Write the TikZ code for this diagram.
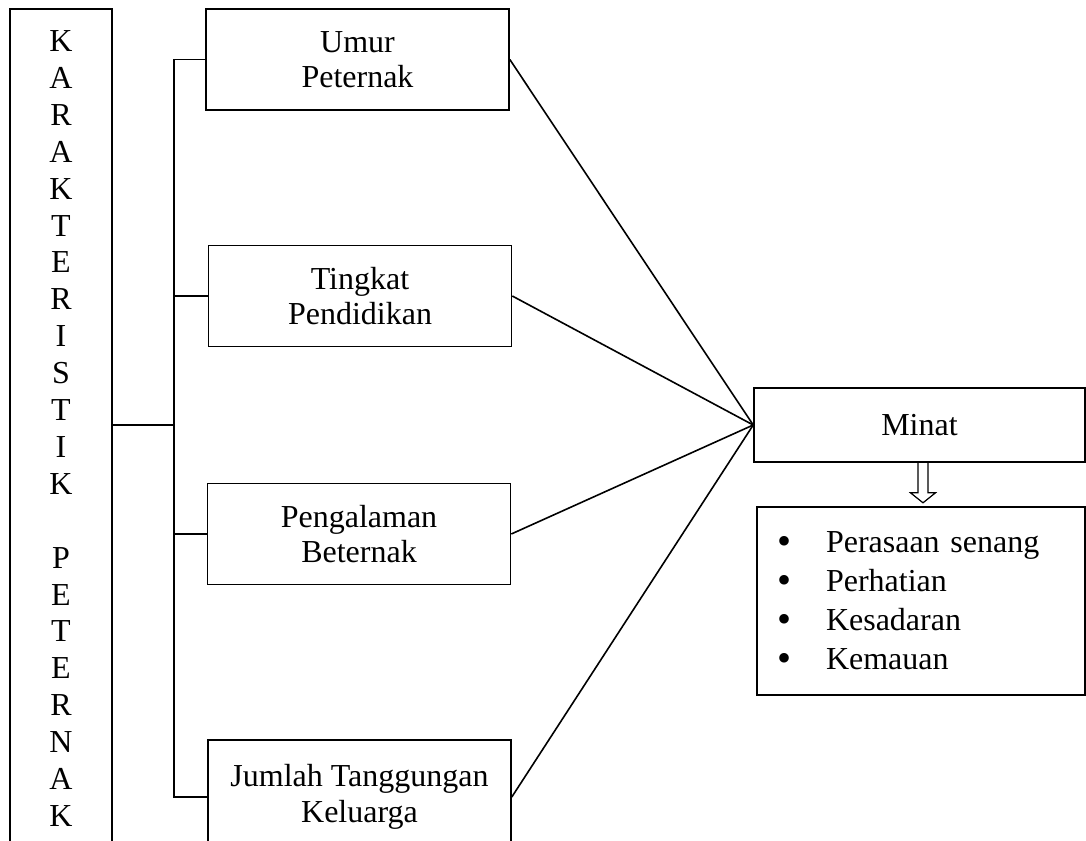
\documentclass[tikz,border=0pt]{standalone}
\usepackage{fontspec}
\setmainfont{Liberation Serif}
\usepackage{tikz}

\newcommand\butir[1]{\makebox[24.5pt][l]{\smash{\raisebox{-0.05em}{\scalebox{1.25}{\textbullet}}}}#1}

\tikzset{
    kotak/.style={draw, line width=0.8pt, align=center, inner sep=0pt,
        minimum width=151.5pt, minimum height=50.5pt,
        font=\fontsize{16pt}{17.8pt}\selectfont},
    garis/.style={line width=0.8pt},
}

\begin{document}
\begin{tikzpicture}[x=0.5pt, y=-0.5pt]
    \useasboundingbox (0,0) rectangle (1086,840);
    \clip (0,0) rectangle (1086,840);

    % Kolom kiri - KARAKTERISTIK PETERNAK (tegak)
    \node[kotak, minimum width=51pt, minimum height=419.5pt,
          font=\fontsize{16pt}{18.45pt}\selectfont] (karakter) at (61,428.5)
        {K\\A\\R\\A\\K\\T\\E\\R\\I\\S\\T\\I\\K\\\mbox{}\\P\\E\\T\\E\\R\\N\\A\\K};

    % Empat faktor karakteristik
    \node[kotak] (umur) at (357.5,59.5) {Umur\\Peternak};
    \node[kotak] (tingkat) at (360,296) {Tingkat\\Pendidikan};
    \node[kotak] (pengalaman) at (359,534) {Pengalaman\\Beternak};
    \node[kotak, minimum height=57pt] (jumlah) at (359.5,797) {Jumlah Tanggungan\\Keluarga};

    % Minat dan indikatornya
    \node[kotak, minimum width=165.5pt, minimum height=37pt] (minat) at (919.5,425) {Minat};
    \node[kotak, align=left, inner xsep=10pt, text width=144pt, minimum height=94pt,
          font=\fontsize{16pt}{19.5pt}\selectfont] (daftar) at (921,601)
        {\butir{Perasaan senang}\\\butir{Perhatian}\\\butir{Kesadaran}\\\butir{Kemauan}};

    % Garis penghubung kiri
    \coordinate (bus) at (174,0);
    \draw[garis] (umur.west) -- (umur.west -| bus) -- (jumlah.west -| bus) -- (jumlah.west);
    \draw[garis] (tingkat.west) -- (tingkat.west -| bus);
    \draw[garis] (pengalaman.west) -- (pengalaman.west -| bus);
    \draw[garis] (karakter.east |- minat.west) -- (bus |- minat.west);

    % Garis menuju Minat
    \foreach \asal in {umur,tingkat,pengalaman,jumlah}
        \draw[garis] (\asal.east) -- (minat.west);

    % Panah kosong ke bawah
    \draw[line width=0.6pt, shift={([xshift=1.75pt]minat.south)}]
        (-5,0) -- (-5,30) -- (-12.5,30) -- (0,40) -- (12.5,30) -- (5,30) -- (5,0);
\end{tikzpicture}
\end{document}
